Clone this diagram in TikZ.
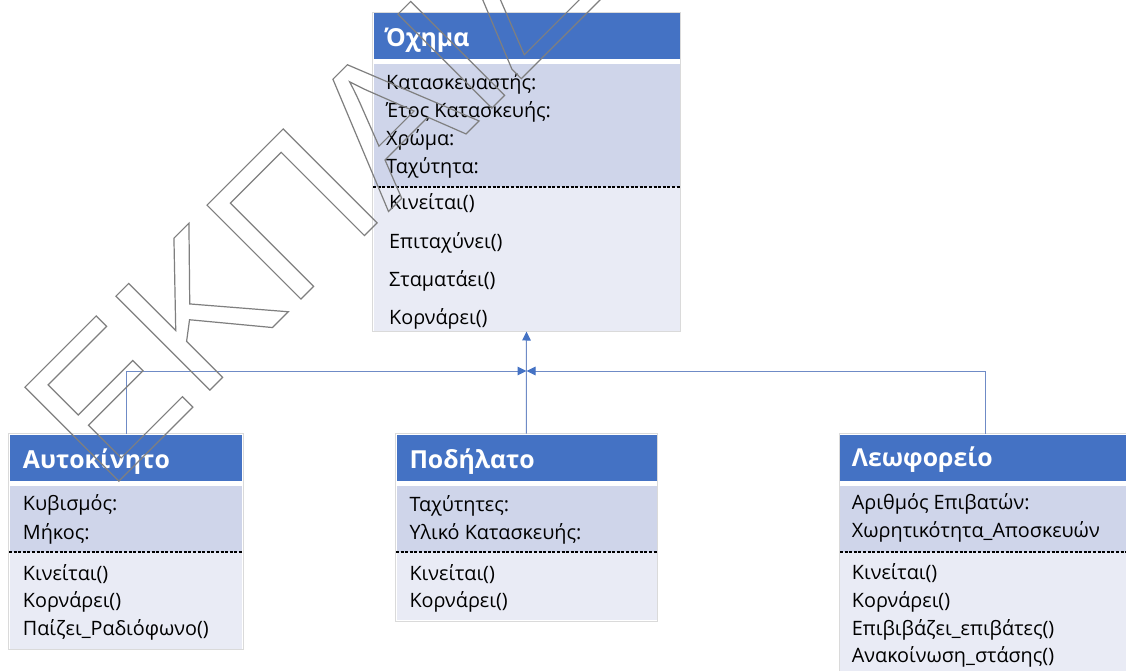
\documentclass[tikz,border=0pt]{standalone}
\usepackage{fontspec}
\setmainfont{Open Sans}
\newfontfamily\wmfont{Liberation Sans}
\usetikzlibrary{arrows.meta}
\definecolor{hdrblue}{HTML}{4472C4}
\definecolor{attrfill}{HTML}{CFD5EA}
\definecolor{methfill}{HTML}{E9EBF5}
\definecolor{boxborder}{HTML}{DADADA}
\definecolor{connblue}{HTML}{6F8BC6}
\definecolor{wmgray}{HTML}{7F7F7F}
\tikzset{
  outerbox/.style={draw=boxborder, fill=white, line width=0.8pt, inner sep=0pt, outer sep=0pt, anchor=north west},
  hdr/.style={fill=hdrblue},
  attr/.style={fill=attrfill},
  meth/.style={fill=methfill},
  sepline/.style={black, line width=1.1pt, dash pattern=on 3pt off 1.6pt},
  title/.style={anchor=base west, inner sep=0pt, text=white, font=\fontsize{24.8}{24.8}\selectfont\bfseries},
  item/.style={anchor=base west, inner sep=0pt, font=\fontsize{19.8}{19.8}\selectfont},
  conn/.style={connblue, line width=1pt},
  tipped/.style={arrows={-{Triangle[length=9pt,width=8.5pt,color=hdrblue]}}},
  watermark/.style={anchor=base west, inner sep=0pt, rotate=45, text=wmgray}
}
\begin{document}
\begin{tikzpicture}[x=1pt,y=-1pt]
\useasboundingbox (0,0) rectangle (1126,671);
\fill[white] (0,0) rectangle (1126,671);
\clip (0,0) rectangle (1126,671);

% ---------- Όχημα ----------
\node[outerbox, minimum width=308pt, minimum height=319pt] (ochima) at (372.5,12.5) {};
\fill[hdr] (373.5,13.5) rectangle (679.5,59.5);
\fill[attr] (373.5,64) rectangle (679.5,187);
\fill[meth] (373.5,187) rectangle (679.5,330.5);
\draw[sepline] (373,187) -- (680,187);
\node[title] (t0) at (385,46.7) {Όχημα};
\node[item] (a01) at (386,89.3) {Κατασκευαστής:};
\node[item] (a02) at (386,117.3) {Έτος Κατασκευής:};
\node[item] (a03) at (386,146) {Χρώμα:};
\node[item] (a04) at (386,174) {Ταχύτητα:};
\node[item] (m01) at (389,209.3) {Κινείται()};
\node[item] (m02) at (389,248.3) {Επιταχύνει()};
\node[item] (m03) at (389,286) {Σταματάει()};
\node[item] (m04) at (389,324) {Κορνάρει()};

% ---------- Αυτοκίνητο ----------
\node[outerbox, minimum width=235pt, minimum height=216pt] (auto) at (8.5,433.5) {};
\fill[hdr] (10,435) rectangle (242,481);
\fill[attr] (10,486) rectangle (242,552);
\fill[meth] (10,552) rectangle (242,648.5);
\draw[sepline] (9,552) -- (243,552);
\node[title] (t1) at (22.7,468.3) {Αυτοκίνητο};
\node[item] (a11) at (22.7,510.7) {Κυβισμός:};
\node[item] (a12) at (22.7,539) {Μήκος:};
\node[item] (m11) at (22.7,580) {Κινείται()};
\node[item] (m12) at (22.7,607.7) {Κορνάρει()};
\node[item] (m13) at (22.7,635) {Παίζει\_Ραδιόφωνο()};

% ---------- Ποδήλατο ----------
\node[outerbox, minimum width=262.5pt, minimum height=187.5pt] (podi) at (395,433.5) {};
\fill[hdr] (396.5,435) rectangle (656.5,481);
\fill[attr] (396.5,486) rectangle (656.5,552);
\fill[meth] (396.5,552) rectangle (656.5,620);
\draw[sepline] (396,552) -- (657,552);
\node[title] (t2) at (409.3,468.3) {Ποδήλατο};
\node[item] (a21) at (409.3,511.7) {Ταχύτητες:};
\node[item] (a22) at (409.3,539.3) {Υλικό Κατασκευής:};
\node[item] (m21) at (409.3,580) {Κινείται()};
\node[item] (m22) at (409.3,607.3) {Κορνάρει()};

% ---------- Λεωφορείο ----------
\node[outerbox, minimum width=293pt, minimum height=260pt] (leo) at (839,433.5) {};
\fill[hdr] (840,435) rectangle (1131,481);
\fill[attr] (840,486) rectangle (1131,552);
\fill[meth] (840,552) rectangle (1131,692);
\draw[sepline] (840,552) -- (1131,552);
\node[title] (t3) at (851.7,466.7) {Λεωφορείο};
\node[item] (a31) at (851.7,509.3) {Αριθμός Επιβατών:};
\node[item] (a32) at (851.7,537.3) {Χωρητικότητα\_Αποσκευών};
\node[item] (m31) at (851.7,579.3) {Κινείται()};
\node[item] (m32) at (851.7,607.3) {Κορνάρει()};
\node[item] (m33) at (851.7,635) {Επιβιβάζει\_επιβάτες()};
\node[item] (m34) at (851.7,662.7) {Ανακοίνωση\_στάσης()};

% ---------- connectors ----------
\coordinate (J) at (526.5,371);
\draw[conn, tipped] (podi.north) -- (ochima.south);
\draw[conn, tipped] (auto.north) |- (J);
\draw[conn, tipped] (leo.north) |- (J);

% ---------- watermark ----------
\node[watermark] (wm) at (107.5,492.4) {\wmfont\fontsize{193}{193}\selectfont\special{pdf:literal direct 1 Tr 1.2 w}ΕΚΠΑΙΔ\special{pdf:literal direct 0 Tr}};
\end{tikzpicture}
\end{document}
